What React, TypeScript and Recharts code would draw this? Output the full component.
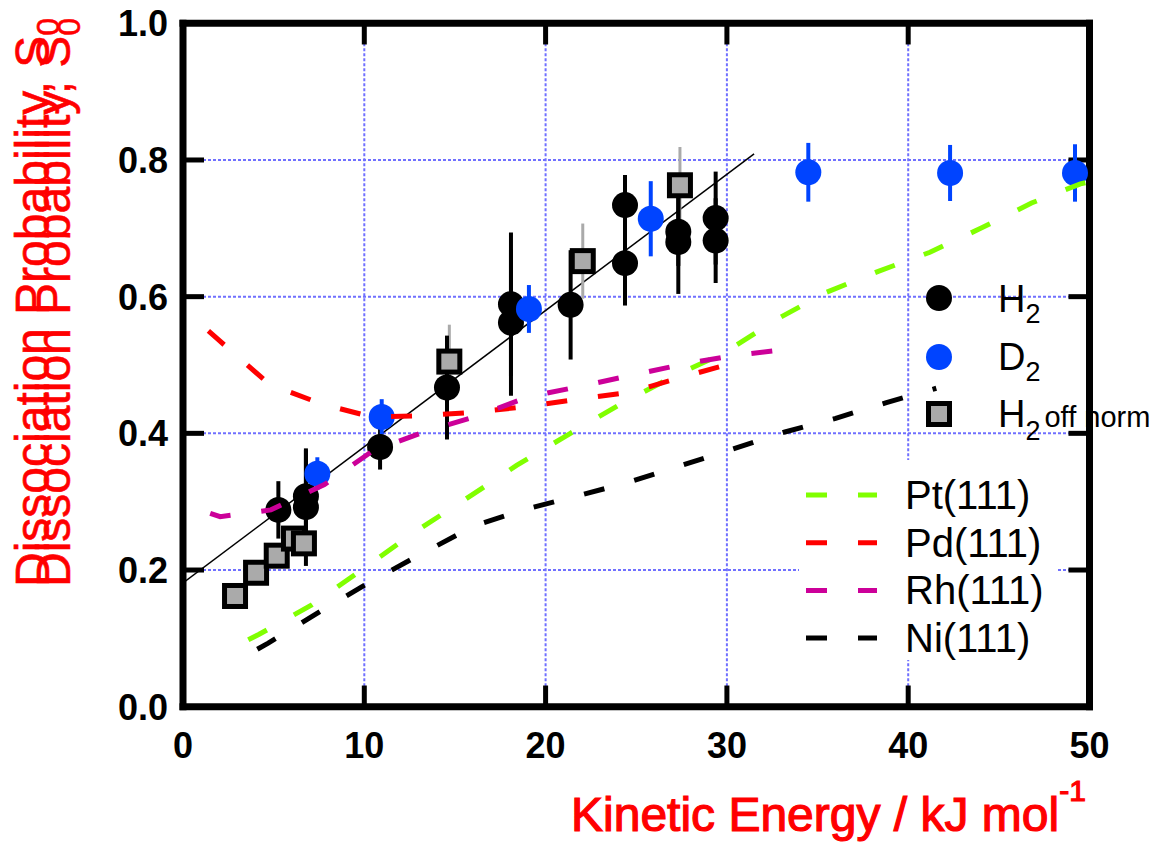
import {
  ComposedChart,
  XAxis,
  YAxis,
  CartesianGrid,
  Scatter,
  Line,
  ErrorBar,
  ReferenceLine,
} from "recharts";

const FONT = '"Liberation Sans", Arial, Helvetica, sans-serif';

// kinetic energy (kJ/mol) vs dissociation probability S0, err = half bar
const h2Points = [
  { x: 5.26, y: 0.288, err: 0.042 },
  { x: 6.78, y: 0.308, err: 0.068 },
  { x: 6.78, y: 0.292, err: 0.086 },
  { x: 10.87, y: 0.38, err: 0.033 },
  { x: 14.56, y: 0.467, err: 0.076 },
  { x: 18.09, y: 0.589, err: 0.105 },
  { x: 18.09, y: 0.562, err: 0.107 },
  { x: 21.38, y: 0.588, err: 0.08 },
  { x: 24.38, y: 0.734, err: 0.044 },
  { x: 24.38, y: 0.649, err: 0.062 },
  { x: 27.32, y: 0.695, err: 0.05 },
  { x: 27.32, y: 0.68, err: 0.076 },
  { x: 29.38, y: 0.715, err: 0.068 },
  { x: 29.38, y: 0.682, err: 0.062 },
];

const d2Points = [
  { x: 7.41, y: 0.341, err: 0.024 },
  { x: 10.96, y: 0.424, err: 0.026 },
  { x: 19.08, y: 0.582, err: 0.035 },
  { x: 25.8, y: 0.714, err: 0.055 },
  { x: 34.49, y: 0.782, err: 0.043 },
  { x: 42.31, y: 0.781, err: 0.041 },
  { x: 49.2, y: 0.781, err: 0.042 },
];

const h2OffNormPoints = [
  { x: 2.87, y: 0.162, err: 0 },
  { x: 4.03, y: 0.196, err: 0 },
  { x: 5.17, y: 0.221, err: 0 },
  { x: 6.12, y: 0.246, err: 0 },
  { x: 6.67, y: 0.239, err: 0 },
  { x: 14.69, y: 0.505, err: 0.054 },
  { x: 22.05, y: 0.652, err: 0.055 },
  { x: 27.41, y: 0.763, err: 0.056 },
];

const fitLine = [
  { x: 0, y: 0.181 },
  { x: 31.5, y: 0.809 },
];

const pt111 = [
  { x: 3.6, y: 0.098 }, { x: 4.2, y: 0.106 }, { x: 7.1, y: 0.149 },
  { x: 9.9, y: 0.201 }, { x: 12.75, y: 0.255 }, { x: 15.6, y: 0.304 },
  { x: 18.4, y: 0.353 }, { x: 21.3, y: 0.399 }, { x: 24.15, y: 0.443 },
  { x: 26.95, y: 0.482 }, { x: 29.8, y: 0.517 }, { x: 32.9, y: 0.569 },
  { x: 35.45, y: 0.606 }, { x: 38.35, y: 0.637 }, { x: 41.2, y: 0.665 },
  { x: 44.0, y: 0.7 }, { x: 46.8, y: 0.737 }, { x: 49.5, y: 0.765 },
  { x: 50, y: 0.768 },
];

const pd111 = [
  { x: 1.4, y: 0.55 }, { x: 1.95, y: 0.537 }, { x: 4.75, y: 0.472 },
  { x: 7.65, y: 0.443 }, { x: 10.4, y: 0.424 }, { x: 13.3, y: 0.426 },
  { x: 16.1, y: 0.431 }, { x: 18.9, y: 0.439 }, { x: 21.8, y: 0.45 },
  { x: 24.65, y: 0.46 }, { x: 27.5, y: 0.482 }, { x: 30.35, y: 0.503 },
  { x: 30.95, y: 0.508 },
];

const rh111 = [
  { x: 1.5, y: 0.283 }, { x: 2.05, y: 0.278 }, { x: 4.85, y: 0.288 },
  { x: 7.8, y: 0.325 }, { x: 10.5, y: 0.375 }, { x: 13.3, y: 0.402 },
  { x: 16.2, y: 0.425 }, { x: 19.0, y: 0.453 }, { x: 21.95, y: 0.469 },
  { x: 24.75, y: 0.485 }, { x: 27.55, y: 0.501 }, { x: 30.4, y: 0.514 },
  { x: 33.0, y: 0.522 },
];

const ni111 = [
  { x: 4.1, y: 0.084 }, { x: 4.7, y: 0.093 }, { x: 7.6, y: 0.14 },
  { x: 10.35, y: 0.183 }, { x: 13.25, y: 0.225 }, { x: 16.1, y: 0.265 },
  { x: 18.9, y: 0.289 }, { x: 21.85, y: 0.309 }, { x: 24.65, y: 0.329 },
  { x: 27.5, y: 0.353 }, { x: 30.3, y: 0.377 }, { x: 33.2, y: 0.402 },
  { x: 36.0, y: 0.422 }, { x: 38.8, y: 0.445 }, { x: 41.55, y: 0.466 },
];

const xTicks = [0, 10, 20, 30, 40, 50];
const yTicks = [0, 0.2, 0.4, 0.6, 0.8, 1.0];
const innerXTicks = [10, 20, 30, 40];
const innerYTicks = [0.2, 0.4, 0.6, 0.8];

const metals = [
  { name: "Pt(111)", color: "#80ff00", data: pt111 },
  { name: "Pd(111)", color: "#ff0000", data: pd111 },
  { name: "Rh(111)", color: "#cc0099", data: rh111 },
  { name: "Ni(111)", color: "#000000", data: ni111 },
];

const BLUE = "#0044ff";
const DASH = "21 31";
// inward tick length (~21px) expressed in axis units
const X_TICK = 1.16;
const Y_TICK = 0.031;

const BlackDot = (p: any) => <circle cx={p.cx} cy={p.cy} r={13} fill="#000" />;
const BlueDot = (p: any) => <circle cx={p.cx} cy={p.cy} r={13} fill={BLUE} />;
const GraySquare = (p: any) => (
  <rect
    x={p.cx - 10.5}
    y={p.cy - 10.5}
    width={21}
    height={21}
    fill="#aaaaaa"
    stroke="#000"
    strokeWidth={5}
  />
);

const XTick = (p: any) => (
  <text x={p.x} y={p.y} dy={26} textAnchor="middle" fontSize={36} fontWeight="bold" fontFamily={FONT} fill="#000">
    {p.payload.value}
  </text>
);
const YTick = (p: any) => (
  <text x={p.x} y={p.y} dy={13} textAnchor="end" fontSize={36} fontWeight="bold" fontFamily={FONT} fill="#000">
    {Number(p.payload.value).toFixed(1)}
  </text>
);

const frame = { stroke: "#000", strokeWidth: 7, strokeLinecap: "square" as const };

function YLabel({ x }: { x: number }) {
  return (
    <text
      transform={`translate(${x},587) rotate(-90)`}
      fontSize={48}
      fill="#ff0000"
      stroke="#ff0000"
      strokeWidth={0.6}
      fontFamily={FONT}
    >
      Dissociation Probability, S
      <tspan fontSize={32} dy={10}>0</tspan>
    </text>
  );
}

export default function App() {
  return (
    <div style={{ position: "absolute", left: 0, top: 0, width: 1169, height: 842, background: "#fff", fontFamily: FONT }}>
      <ComposedChart
        width={1169}
        height={842}
        margin={{ top: 13.3, right: 69.5, bottom: 75.3, left: 83 }}
      >
        <CartesianGrid stroke="#7070ff" strokeWidth={2} strokeDasharray="3 2" />
        <XAxis
          type="number"
          dataKey="x"
          domain={[0, 50]}
          ticks={xTicks}
          allowDataOverflow
          height={60}
          axisLine={frame}
          tickLine={false}
          tickSize={0}
          tickMargin={25}
          tick={XTick}
        />
        <YAxis
          type="number"
          dataKey="y"
          domain={[0, 1]}
          ticks={yTicks}
          allowDataOverflow
          width={100}
          axisLine={frame}
          tickLine={false}
          tickSize={0}
          tickMargin={15}
          tick={YTick}
        />
        <XAxis
          xAxisId="top"
          orientation="top"
          type="number"
          domain={[0, 50]}
          ticks={xTicks}
          height={10}
          axisLine={frame}
          tickLine={false}
          tick={false}
        />
        <YAxis
          yAxisId="right"
          orientation="right"
          type="number"
          domain={[0, 1]}
          ticks={yTicks}
          width={10}
          axisLine={frame}
          tickLine={false}
          tick={false}
        />

        {/* inward tick marks on all four sides */}
        {innerXTicks.map((v) => (
          <ReferenceLine
            key={`b${v}`}
            segment={[{ x: v, y: 0 }, { x: v, y: Y_TICK }]}
            stroke="#000"
            strokeWidth={5}
            ifOverflow="visible"
          />
        ))}
        {innerXTicks.map((v) => (
          <ReferenceLine
            key={`t${v}`}
            segment={[{ x: v, y: 1 }, { x: v, y: 1 - Y_TICK }]}
            stroke="#000"
            strokeWidth={5}
            ifOverflow="visible"
          />
        ))}
        {innerYTicks.map((v) => (
          <ReferenceLine
            key={`l${v}`}
            segment={[{ x: 0, y: v }, { x: X_TICK, y: v }]}
            stroke="#000"
            strokeWidth={5}
            ifOverflow="visible"
          />
        ))}
        {innerYTicks.map((v) => (
          <ReferenceLine
            key={`r${v}`}
            segment={[{ x: 50, y: v }, { x: 50 - X_TICK, y: v }]}
            stroke="#000"
            strokeWidth={5}
            ifOverflow="visible"
          />
        ))}

        <Line
          data={fitLine}
          dataKey="y"
          stroke="#000"
          strokeWidth={1.5}
          dot={false}
          isAnimationActive={false}
        />

        <Scatter data={h2OffNormPoints} shape={GraySquare} isAnimationActive={false}>
          <ErrorBar dataKey="err" direction="y" width={0} stroke="#aaaaaa" strokeWidth={3} isAnimationActive={false} />
        </Scatter>
        <Scatter data={h2Points} shape={BlackDot} isAnimationActive={false}>
          <ErrorBar dataKey="err" direction="y" width={0} stroke="#000" strokeWidth={4} isAnimationActive={false} />
        </Scatter>
        <Scatter data={d2Points} shape={BlueDot} isAnimationActive={false}>
          <ErrorBar dataKey="err" direction="y" width={0} stroke={BLUE} strokeWidth={4} isAnimationActive={false} />
        </Scatter>

        {metals.map((m) => (
          <Line
            key={m.name}
            data={m.data}
            dataKey="y"
            stroke={m.color}
            strokeWidth={5}
            strokeDasharray={DASH}
            dot={false}
            isAnimationActive={false}
            {...({ zIndex: 700 } as any)}
          />
        ))}
      </ComposedChart>

      <svg
        width={1169}
        height={842}
        style={{ position: "absolute", left: 0, top: 0, pointerEvents: "none" }}
        fontFamily={FONT}
      >
        <YLabel x={49} />
        <YLabel x={70} />

        <text x={571} y={831} fontSize={48} fill="#ff0000" stroke="#ff0000" strokeWidth={1.2}>
          Kinetic Energy / kJ mol
          <tspan fontSize={30} dy={-30}>-1</tspan>
        </text>

        {/* symbol legend */}
        <circle cx={939} cy={298} r={13} fill="#000" />
        <text x={998} y={312} fontSize={38} fill="#000">
          H<tspan fontSize={27} dy={11}>2</tspan>
        </text>
        <circle cx={939} cy={357} r={13} fill={BLUE} />
        <text x={998} y={370} fontSize={38} fill="#000">
          D<tspan fontSize={27} dy={11}>2</tspan>
        </text>
        <rect x={928.5} y={403.5} width={21} height={21} fill="#aaaaaa" stroke="#000" strokeWidth={5} />
        <text x={998} y={427} fontSize={38} fill="#000">
          H<tspan fontSize={27} dy={13}>2</tspan>
          <tspan fontSize={29} dy={-13} dx={4}>off norm</tspan>
        </text>

        {/* metal legend */}
        <rect x={799} y={460} width={258} height={200} fill="#fff" />
        {metals.map((m, i) => (
          <g key={m.name}>
            <line
              x1={806}
              x2={877}
              y1={495 + i * 47.7}
              y2={495 + i * 47.7}
              stroke={m.color}
              strokeWidth={5}
              strokeDasharray={DASH}
            />
            <text x={905} y={509 + i * 47.7} fontSize={40} fill="#000">
              {m.name}
            </text>
          </g>
        ))}
      </svg>
    </div>
  );
}
